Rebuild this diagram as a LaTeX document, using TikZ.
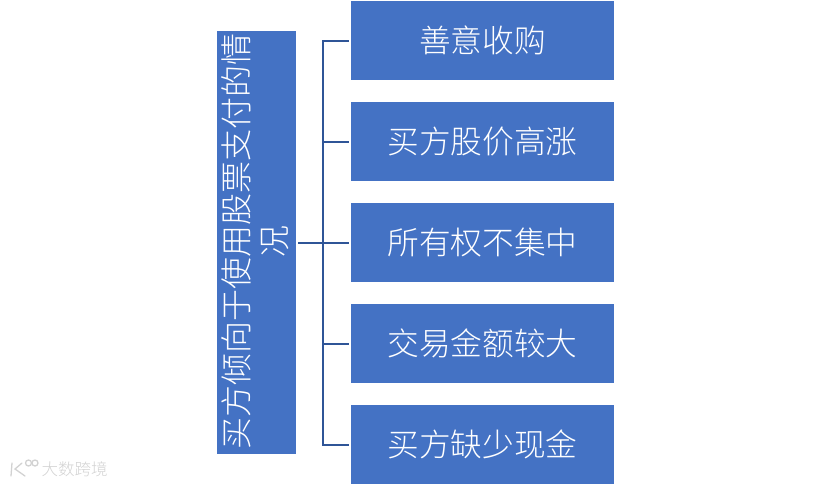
\documentclass[tikz,border=0pt]{standalone}
\usepackage{fontspec}
\newfontfamily\cjk{Noto Sans CJK SC Light}
\definecolor{bx}{HTML}{4472C4}
\definecolor{ln}{HTML}{2F5597}
\newcommand{\lift}[1]{\raisebox{0.7pt}{#1}}
\tikzset{
  bxs/.style={draw=none,fill=bx,text=white,inner sep=0pt,minimum width=263pt,minimum height=79pt,font=\fontsize{31.7}{36}\cjk},
  conn/.style={draw=ln,line width=2pt},
  wmline/.style={draw=gray!35,line width=1.3pt,line cap=round},
}
\begin{document}
\begin{tikzpicture}[x=1pt,y=-1pt]
\useasboundingbox (0,0) rectangle (830,485);
\node[draw=none,fill=bx,inner sep=0pt,minimum width=79pt,minimum height=423pt] (root) at (256.5,242.5) {};
\node[rotate=90,text=white,font=\fontsize{32}{38}\cjk,align=center,inner sep=0pt] (roott) at (255.5,241) {买方倾向于使用股票支付的情\\况};
\node[bxs] (a) at (482.5,40.5) {\lift{善意收购}};
\node[bxs] (b) at (482.5,141.5) {\lift{买方股价高涨}};
\node[bxs] (c) at (482.5,242.5) {\lift{所有权不集中}};
\node[bxs] (d) at (482.5,343.5) {\lift{交易金额较大}};
\node[bxs] (e) at (482.5,444.5) {\lift{买方缺少现金}};
\coordinate (j) at (323,242.5);
\draw[conn,shorten <=2pt,shorten >=2pt] (root.east) -- (c.west);
\draw[conn,shorten <=2pt,shorten >=2pt] (a.west) -- (j |- a.west) -- (j |- e.west) -- (e.west);
\draw[conn,shorten <=2pt] (b.west) -- (j |- b.west);
\draw[conn,shorten <=2pt] (d.west) -- (j |- d.west);
\node[text=gray!35,font=\fontsize{16.5}{16.5}\cjk,inner sep=0pt] (wm) at (74.5,469.5) {大数跨境};
\draw[wmline] (12,463) -- (11,476);
\draw[wmline] (22,463) -- (15,469) -- (25,476);
\draw[wmline] (28.5,463) circle (3pt);
\draw[wmline] (35,463) circle (3pt);
\end{tikzpicture}
\end{document}
